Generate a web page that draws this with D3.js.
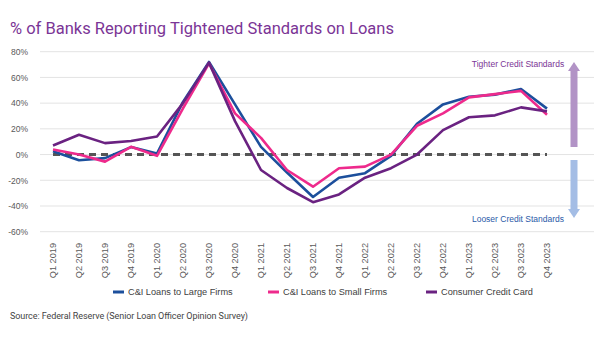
<!DOCTYPE html>
<html>
<head>
<meta charset="utf-8">
<script src="https://cdnjs.cloudflare.com/ajax/libs/d3/7.8.5/d3.min.js"></script>
<style>
  body { margin: 0; background: #fff; }
  svg { display: block; }
</style>
</head>
<body>
<div id="chart"></div>
<script>
// quarters on the x axis
const quarters = ["Q1 2019", "Q2 2019", "Q3 2019", "Q4 2019", "Q1 2020", "Q2 2020", "Q3 2020", "Q4 2020",
    "Q1 2021", "Q2 2021", "Q3 2021", "Q4 2021", "Q1 2022", "Q2 2022", "Q3 2022", "Q4 2022",
    "Q1 2023", "Q2 2023", "Q3 2023", "Q4 2023"];

// net % of banks tightening
const largeFirms = [2.5, -4.4, -2.8, 5.8, 0.8, 41, 72, 39, 6, -14, -33, -18, -14.5, -1, 24, 39, 45, 46.6, 51, 35.7];
const smallFirms = [4, 0, -5.5, 6, -1, 36, 71, 32, 13, -12, -25, -10.6, -9.4, 0, 22.4, 32, 44.5, 47, 49.5, 31];
const creditCard = [7, 15.4, 8.9, 10.5, 14, 40, 71.5, 26, -12, -26, -37, -31, -18, -10.6, 0, 19, 29, 30.5, 36.7, 33.6];

const yTicks = [-60, -40, -20, 0, 20, 40, 60, 80];

const seriesNames = ["C&I Loans to Large Firms", "C&I Loans to Small Firms", "Consumer Credit Card"];
const seriesColors = ["#1c4f9c", "#ee2a8c", "#6a2281"];

const width = 600, height = 338;
const svg = d3.select("#chart").append("svg")
    .attr("width", width)
    .attr("height", height);

// title
svg.append("text")
    .attr("x", 10)
    .attr("y", 34)
    .attr("font-family", "Roboto, 'Noto Sans', sans-serif")
    .attr("font-size", 16.5)
    .attr("fill", "#7b3596")
    .text("% of Banks Reporting Tightened Standards on Loans");

let x = d3.scaleBand()
    .domain(quarters)
    .range([40, 560]);

let y = d3.scaleLinear()
    .domain([-60, 80])
    .range([231.7, 51.7]);

// gridlines
svg.append("g")
    .selectAll("line")
    .data(yTicks)
    .join("line")
    .attr("x1", 40)
    .attr("x2", 594)
    .attr("y1", d => y(d))
    .attr("y2", d => y(d))
    .attr("stroke", "#e3e3e3")
    .attr("stroke-width", 1);

// y axis labels
let yAxis = svg.append("g")
    .attr("transform", "translate(30,0)")
    .call(d3.axisLeft(y).tickValues(yTicks).tickFormat(d => d + "%").tickSize(0).tickPadding(2));
yAxis.select(".domain").remove();
yAxis.selectAll("text")
    .attr("font-family", "'Liberation Sans', Arial, sans-serif")
    .attr("font-size", 8.5)
    .attr("fill", "#595959");

// x axis labels, rotated
let xAxis = svg.append("g")
    .attr("transform", "translate(0,240)")
    .call(d3.axisBottom(x).tickSize(0));
xAxis.select(".domain").remove();
xAxis.selectAll("text")
    .attr("font-family", "'Liberation Sans', Arial, sans-serif")
    .attr("font-size", 9.2)
    .attr("fill", "#595959")
    .attr("text-anchor", "end")
    .attr("dy", "0.35em")
    .attr("transform", "rotate(-90) translate(-3,0)")
    .attr("x", 0)
    .attr("y", 0);

const cx = d => x(d) + x.bandwidth() / 2;

// zero line
svg.append("line")
    .attr("x1", cx(quarters[0]))
    .attr("x2", cx(quarters[quarters.length - 1]))
    .attr("y1", y(0))
    .attr("y2", y(0))
    .attr("stroke", "#555")
    .attr("stroke-width", 3)
    .attr("stroke-dasharray", "7,5");

// the three series
let line = d3.line()
    .x((d, i) => cx(quarters[i]))
    .y(d => y(d));

[largeFirms, smallFirms, creditCard].forEach((data, i) => {
    svg.append("path")
        .datum(data)
        .attr("d", line)
        .attr("fill", "none")
        .attr("stroke", seriesColors[i])
        .attr("stroke-width", 2.6)
        .attr("stroke-linejoin", "round");
});

// arrows on the right
const arrowX = 574;
function arrow(y0, y1, color) {
    let dir = y1 < y0 ? -1 : 1;
    let headLen = 9;
    svg.append("rect")
        .attr("x", arrowX - 3.5)
        .attr("width", 7)
        .attr("y", Math.min(y0, y1 - dir * headLen))
        .attr("height", Math.abs((y1 - dir * headLen) - y0))
        .attr("fill", color);
    svg.append("path")
        .attr("d", `M${arrowX - 6},${y1 - dir * headLen} L${arrowX + 6},${y1 - dir * headLen} L${arrowX},${y1} Z`)
        .attr("fill", color);
}
arrow(147, 62, "#b293c6");
arrow(160, 218, "#a4bde5");

svg.append("text")
    .attr("x", 518)
    .attr("y", 67)
    .attr("text-anchor", "middle")
    .attr("font-family", "'Liberation Sans', Arial, sans-serif")
    .attr("font-size", 8.5)
    .attr("fill", "#7b3596")
    .text("Tighter Credit Standards");

svg.append("text")
    .attr("x", 518)
    .attr("y", 222)
    .attr("text-anchor", "middle")
    .attr("font-family", "'Liberation Sans', Arial, sans-serif")
    .attr("font-size", 8.5)
    .attr("fill", "#2a5aa8")
    .text("Looser Credit Standards");

// legend
const legendX = [113, 268, 426];
let legend = svg.append("g")
    .selectAll("g")
    .data(seriesNames)
    .join("g")
    .attr("transform", (d, i) => `translate(${legendX[i]},292)`);
legend.append("line")
    .attr("x1", 0)
    .attr("x2", 11)
    .attr("stroke", (d, i) => seriesColors[i])
    .attr("stroke-width", 3);
legend.append("text")
    .attr("x", 15)
    .attr("dy", "0.35em")
    .attr("font-family", "'Liberation Sans', Arial, sans-serif")
    .attr("font-size", 9.2)
    .attr("fill", "#404040")
    .text(d => d);

// source note
svg.append("text")
    .attr("x", 10)
    .attr("y", 319)
    .attr("font-family", "Roboto, 'Noto Sans', sans-serif")
    .attr("font-size", 9)
    .attr("fill", "#444")
    .attr("textLength", 238)
    .text("Source: Federal Reserve (Senior Loan Officer Opinion Survey)");
</script>
</body>
</html>
